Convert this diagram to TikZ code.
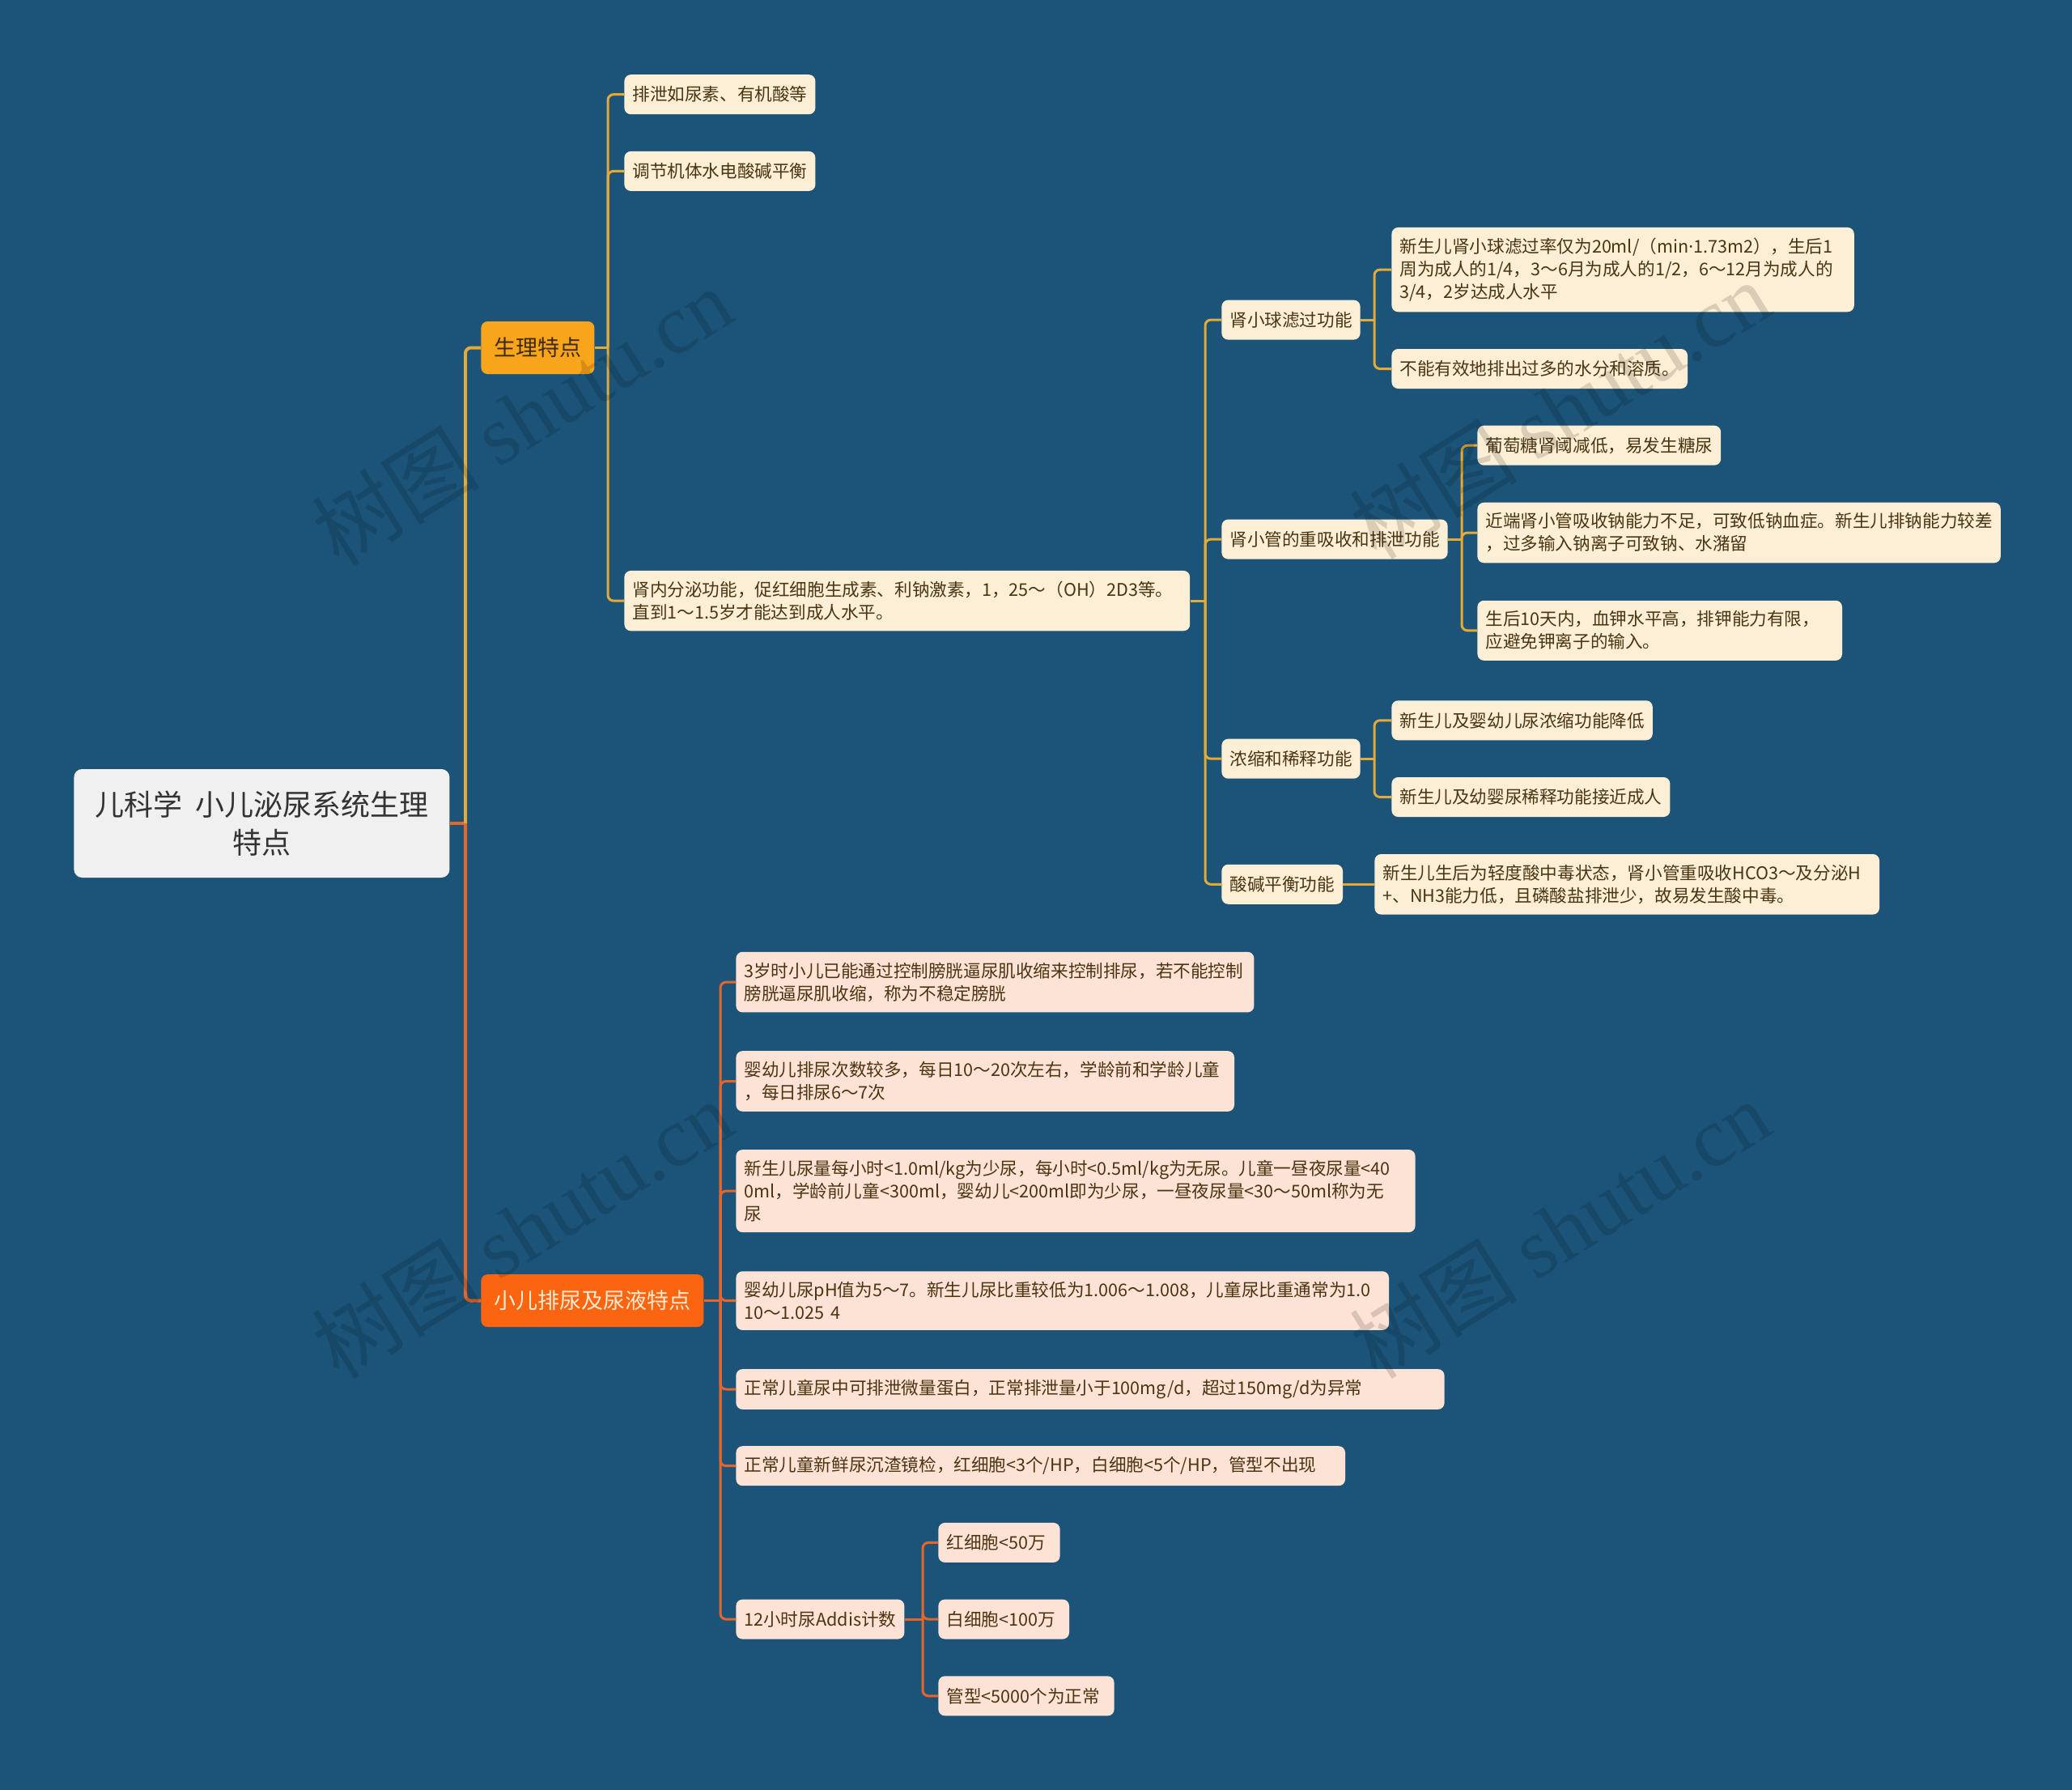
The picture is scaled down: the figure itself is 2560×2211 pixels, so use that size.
\documentclass[tikz,border=0pt]{standalone}
\usepackage{fontspec}
\setmainfont{Noto Sans CJK SC}
\newfontfamily\wmserif{Liberation Serif}
\newfontfamily\latinfont{Noto Sans}

\definecolor{cBg}{HTML}{1B5478}
\definecolor{cRoot}{HTML}{F0F0F0}
\definecolor{cRootText}{HTML}{333333}
\definecolor{cPhys}{HTML}{F9A51C}
\definecolor{cPhysText}{HTML}{3D2B0E}
\definecolor{cUrine}{HTML}{FB6410}
\definecolor{cUrineText}{HTML}{FDEBD0}
\definecolor{cCream}{HTML}{FDEFD6}
\definecolor{cPeach}{HTML}{FDE3D5}
\definecolor{cLeafText}{HTML}{4A3512}
\definecolor{cGold}{HTML}{E5A935}
\definecolor{cOrange}{HTML}{E8652A}

\begin{document}
\begin{tikzpicture}[x=0.5pt,y=-0.5pt,
    rootbox/.style={fill=cRoot,text=cRootText,rounded corners=5pt,anchor=west,
      minimum width=232pt,minimum height=67pt,align=center,
      font=\fontsize{18}{23.5}\selectfont},
    mainbox/.style={rounded corners=4pt,anchor=west,inner xsep=8pt,inner ysep=9pt,
      minimum height=32.5pt,font=\fontsize{13.5}{16}\selectfont},
    leafbox/.style={rounded corners=4pt,anchor=west,inner xsep=5pt,inner ysep=6.5pt,
      minimum height=24.5pt,align=left,text=cLeafText,
      font=\fontsize{10.8}{14}\selectfont},
    physleaf/.style={leafbox,fill=cCream},
    urineleaf/.style={leafbox,fill=cPeach},
    physlink/.style={draw=cGold,line width=1.5pt,rounded corners=3.5pt},
    urinelink/.style={draw=cOrange,line width=1.5pt,rounded corners=3.5pt},
    wmark/.style={text=black,opacity=0.14,rotate=32,font=\fontsize{52}{52}\selectfont}]

    % background and frame
    \fill[cBg] (0,0) rectangle (2560,2211);
    \useasboundingbox (0,0) rectangle (2560,2211);

    % root and main topics
    \node[rootbox] (root) at (91,1017) {儿科学~~小儿泌尿系统生理\\特点};
    \node[mainbox,fill=cPhys,text=cPhysText] (phys) at (594,429.5) {生理特点};
    \node[mainbox,fill=cUrine,text=cUrineText] (urine) at (594,1606.6) {小儿排尿及尿液特点};

    % 生理特点
    \node[physleaf] (excr) at (771,116.7) {排泄如尿素、有机酸等};
    \node[physleaf] (balance) at (771,211.4) {调节机体水电酸碱平衡};
    \node[physleaf,text width=339.4pt] (endo) at (771,742.1) {肾内分泌功能，促红细胞生成素、利钠激素，1，25～（OH）2D3等。\\直到1～1.5岁才能达到成人水平。};

    \node[physleaf] (glom) at (1509,395.1) {肾小球滤过功能};
    \node[physleaf] (tub) at (1509,666.1) {肾小管的重吸收和排泄功能};
    \node[physleaf] (conc) at (1509,937.2) {浓缩和稀释功能};
    \node[physleaf] (acid) at (1509,1092.3) {酸碱平衡功能};

    \node[physleaf,text width=275.7pt] (glomA) at (1719,333.1) {新生儿肾小球滤过率仅为20ml/（min{\latinfont ·}1.73m2），生后1\\周为成人的1/4，3～6月为成人的1/2，6～12月为成人的\\3/4，2岁达成人水平};
    \node[physleaf] (glomB) at (1719,455.5) {不能有效地排出过多的水分和溶质。};

    \node[physleaf] (tubA) at (1825,550.2) {葡萄糖肾阈减低，易发生糖尿};
    \node[physleaf] (tubB) at (1825,658.0) {近端肾小管吸收钠能力不足，可致低钠血症。新生儿排钠能力较差\\，过多输入钠离子可致钠、水潴留};
    \node[physleaf,text width=215.3pt] (tubC) at (1825,778.8) {生后10天内，血钾水平高，排钾能力有限，\\应避免钾离子的输入。};

    \node[physleaf] (concA) at (1719,889.8) {新生儿及婴幼儿尿浓缩功能降低};
    \node[physleaf] (concB) at (1719,984.5) {新生儿及幼婴尿稀释功能接近成人};

    \node[physleaf,text width=301.8pt] (acidA) at (1698,1092.3) {新生儿生后为轻度酸中毒状态，肾小管重吸收HCO3～及分泌H\\+、NH3能力低，且磷酸盐排泄少，故易发生酸中毒。};

    % 小儿排尿及尿液特点
    \node[urineleaf,text width=310pt] (bladder) at (909,1213.1) {3岁时小儿已能通过控制膀胱逼尿肌收缩来控制排尿，若不能控制\\膀胱逼尿肌收缩，称为不稳定膀胱};
    \node[urineleaf,text width=297.8pt] (freq) at (909,1335.5) {婴幼儿排尿次数较多，每日10～20次左右，学龄前和学龄儿童\\，每日排尿6～7次};
    \node[urineleaf,text width=409.6pt] (volume) at (909,1471.1) {新生儿尿量每小时<1.0ml/kg为少尿，每小时<0.5ml/kg为无尿。儿童一昼夜尿量<40\\0ml，学龄前儿童<300ml，婴幼儿<200ml即为少尿，一昼夜尿量<30～50ml称为无\\尿};
    \node[urineleaf,text width=393.3pt] (ph) at (909,1606.6) {婴幼儿尿pH值为5～7。新生儿尿比重较低为1.006～1.008，儿童尿比重通常为1.0\\10～1.025 4};
    \node[urineleaf,text width=427.6pt] (protein) at (909,1716.0) {正常儿童尿中可排泄微量蛋白，正常排泄量小于100mg/d，超过150mg/d为异常};
    \node[urineleaf,text width=366.3pt] (sediment) at (909,1810.7) {正常儿童新鲜尿沉渣镜检，红细胞<3个/HP，白细胞<5个/HP，管型不出现};
    \node[urineleaf] (addis) at (909,2000.1) {12小时尿Addis计数};

    \node[urineleaf,text width=65.1pt] (rbc) at (1159,1905.4) {红细胞<50万};
    \node[urineleaf,text width=70.8pt] (wbc) at (1159,2000.1) {白细胞<100万};
    \node[urineleaf,text width=98.6pt] (cast) at (1159,2094.8) {管型<5000个为正常};

    % brackets
    \coordinate (b0) at (575,0);
    \coordinate (b1) at (751,0);
    \coordinate (b2) at (1489,0);
    \coordinate (b3) at (1698,0);
    \coordinate (b4) at (1806,0);
    \coordinate (b5) at (1698,0);
    \coordinate (b6) at (890,0);
    \coordinate (b7) at (1140,0);

    % trunk
    \draw[urinelink,line width=2pt] (root.east) -- (root.east -| b0);
    \draw[physlink,line width=2pt] (root.east -| b0) |- (phys.west);
    \draw[urinelink,line width=2pt] (root.east -| b0) |- (urine.west);

    % 生理特点 links
    \draw[physlink] (phys.east) -- (phys.east -| b1);
    \draw[physlink] (phys.east -| b1) |- (excr.west);
    \draw[physlink] (phys.east -| b1) |- (balance.west);
    \draw[physlink] (phys.east -| b1) |- (endo.west);

    \draw[physlink] (endo.east) -- (endo.east -| b2);
    \draw[physlink] (endo.east -| b2) |- (glom.west);
    \draw[physlink] (endo.east -| b2) |- (tub.west);
    \draw[physlink] (endo.east -| b2) |- (conc.west);
    \draw[physlink] (endo.east -| b2) |- (acid.west);

    \draw[physlink] (glom.east) -- (glom.east -| b3);
    \draw[physlink] (glom.east -| b3) |- (glomA.west);
    \draw[physlink] (glom.east -| b3) |- (glomB.west);

    \draw[physlink] (tub.east) -- (tub.east -| b4);
    \draw[physlink] (tub.east -| b4) |- (tubA.west);
    \draw[physlink] (tub.east -| b4) |- (tubB.west);
    \draw[physlink] (tub.east -| b4) |- (tubC.west);

    \draw[physlink] (conc.east) -- (conc.east -| b5);
    \draw[physlink] (conc.east -| b5) |- (concA.west);
    \draw[physlink] (conc.east -| b5) |- (concB.west);

    \draw[physlink] (acid.east) -- (acidA.west);

    % 小儿排尿及尿液特点 links
    \draw[urinelink] (urine.east) -- (urine.east -| b6);
    \draw[urinelink] (urine.east -| b6) |- (bladder.west);
    \draw[urinelink] (urine.east -| b6) |- (freq.west);
    \draw[urinelink] (urine.east -| b6) |- (volume.west);
    \draw[urinelink] (urine.east -| b6) |- (ph.west);
    \draw[urinelink] (urine.east -| b6) |- (protein.west);
    \draw[urinelink] (urine.east -| b6) |- (sediment.west);
    \draw[urinelink] (urine.east -| b6) |- (addis.west);

    \draw[urinelink] (addis.east) -- (addis.east -| b7);
    \draw[urinelink] (addis.east -| b7) |- (rbc.west);
    \draw[urinelink] (addis.east -| b7) |- (wbc.west);
    \draw[urinelink] (addis.east -| b7) |- (cast.west);

    % watermarks
    \node[wmark] (wm1) at (645,514) {树图 {\wmserif shutu.cn}};
    \node[wmark] (wm2) at (1927,506) {树图 {\wmserif shutu.cn}};
    \node[wmark] (wm3) at (645,1518) {树图 {\wmserif shutu.cn}};
    \node[wmark] (wm4) at (1927,1518) {树图 {\wmserif shutu.cn}};
\end{tikzpicture}
\end{document}
